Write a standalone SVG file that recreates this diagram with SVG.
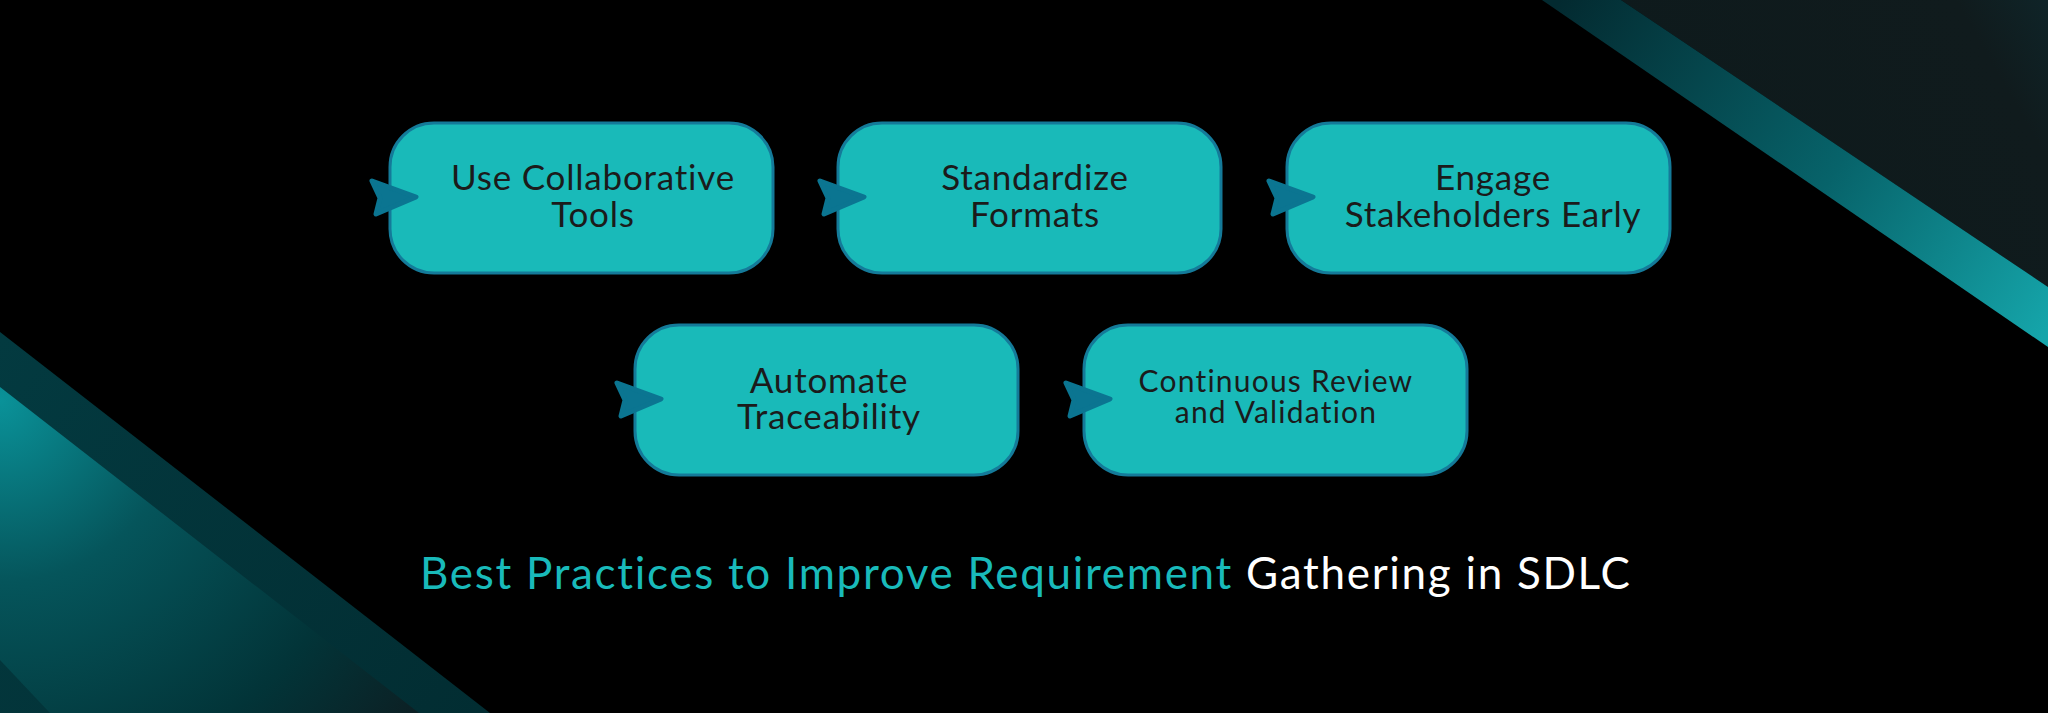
<svg xmlns="http://www.w3.org/2000/svg" width="2048" height="713" viewBox="0 0 2048 713">
<style>
.box{fill:#19BAB9;stroke:#147A99;stroke-width:3}
.lbl{font-family:Lato,"Liberation Sans",sans-serif;font-size:35px;fill:#1B1B1B;text-anchor:middle;letter-spacing:0.8px}
.sm{font-size:30px;letter-spacing:1.2px}
.head{stroke:#0B7591;stroke-width:5;stroke-linejoin:round;fill:#0B7591}
.title{font-family:Lato,"Liberation Sans",sans-serif;font-size:44px;letter-spacing:1.7px}
</style>
<defs>
<linearGradient id="stripeTR" x1="1560" y1="0" x2="2048" y2="330" gradientUnits="userSpaceOnUse">
<stop offset="0" stop-color="#032A30"/>
<stop offset="0.55" stop-color="#07636A"/>
<stop offset="1" stop-color="#15A5AA"/>
</linearGradient>
<linearGradient id="darkTR" x1="1700" y1="200" x2="2048" y2="0" gradientUnits="userSpaceOnUse">
<stop offset="0" stop-color="#0E1A1C"/>
<stop offset="0.8" stop-color="#101B1D"/>
<stop offset="1" stop-color="#0F2428"/>
</linearGradient>
<linearGradient id="bandBL" x1="0" y1="340" x2="480" y2="713" gradientUnits="userSpaceOnUse">
<stop offset="0" stop-color="#033A40"/>
<stop offset="1" stop-color="#022D32"/>
</linearGradient>
<radialGradient id="glowBL" cx="0" cy="400" r="520" gradientUnits="userSpaceOnUse">
<stop offset="0" stop-color="#0A9299"/>
<stop offset="0.35" stop-color="#05555B"/>
<stop offset="0.75" stop-color="#023438"/>
<stop offset="1" stop-color="#0C2024"/>
</radialGradient>
</defs>
<rect width="2048" height="713" fill="#000000"/>
<g id="background">
<polygon points="1621,0 2048,0 2048,287" fill="url(#darkTR)"/>
<polygon points="1542,0 1621,0 2048,287 2048,347" fill="url(#stripeTR)"/>
<polygon points="0,332 490,713 0,713" fill="url(#bandBL)"/>
<polygon points="0,387 419,713 50,713 0,660" fill="url(#glowBL)"/>
</g>
<g id="node1">
<rect class="box" x="390" y="123" width="383" height="150" rx="44"/>
<text class="lbl" x="593" y="190">Use Collaborative</text>
<text class="lbl" x="593" y="227">Tools</text>
</g>
<g id="node2">
<rect class="box" x="838" y="123" width="383" height="150" rx="44"/>
<text class="lbl" x="1035" y="190">Standardize</text>
<text class="lbl" x="1035" y="227">Formats</text>
</g>
<g id="node3">
<rect class="box" x="1287" y="123" width="383" height="150" rx="44"/>
<text class="lbl" x="1493" y="190">Engage</text>
<text class="lbl" x="1493" y="227">Stakeholders Early</text>
</g>
<g id="node4">
<rect class="box" x="635" y="325" width="383" height="150" rx="44"/>
<text class="lbl" x="829" y="393">Automate</text>
<text class="lbl" x="829" y="429">Traceability</text>
</g>
<g id="node5">
<rect class="box" x="1084" y="325" width="383" height="150" rx="44"/>
<text class="lbl sm" x="1276" y="392">Continuous Review</text>
<text class="lbl sm" x="1276" y="423">and Validation</text>
</g>
<g id="connectors">
<path class="head" d="M372,181 L416,197 L376,214 L380,198 Z"/>
<path class="head" d="M820,181 L864,197 L824,214 L828,198 Z"/>
<path class="head" d="M1269,181 L1313,197 L1273,214 L1277,198 Z"/>
<path class="head" d="M617,383 L661,399 L621,416 L625,400 Z"/>
<path class="head" d="M1066,383 L1110,399 L1070,416 L1074,400 Z"/>
</g>
<g id="title">
<text class="title" x="420" y="589"><tspan fill="#19BABA">Best Practices to Improve Requirement</tspan><tspan fill="#FFFFFF"> Gathering in SDLC</tspan></text>
</g>
</svg>
